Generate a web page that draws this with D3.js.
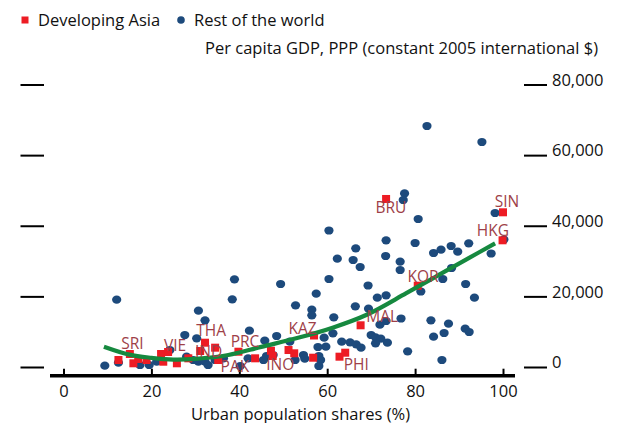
<!DOCTYPE html>
<html><head><meta charset="utf-8">
<script src="https://cdn.jsdelivr.net/npm/d3@7"></script>
<style>
html,body{margin:0;padding:0;background:#fff;}
svg{display:block;font-family:"Open Sans",sans-serif;}
</style></head>
<body>
<svg id="c" width="617" height="423"></svg>
<script>
// ---- data ----
const xTicks = [0, 20, 40, 60, 80, 100];
const yTicks = [0, 20000, 40000, 60000, 80000];
const xTitle = "Urban population shares (%)";
const yTitle = "Per capita GDP, PPP (constant 2005 international $)";
const seriesNames = ["Developing Asia", "Rest of the world"];

// Rest of the world: urban share (%) and GDP per capita
const worldX = [82.7,95.2,77.6,77.3,80.7,60.4,98.2,100.2,73.4,80.0,66.5,62.3,65.9,67.5,73.3,76.6,76.6,60.4,69.3,84.2,85.9,88.2,89.7,92.2,97.3,88.3,86.3,91.5,93.5,81.3,76.8,83.6,87.6,84.2,86.6,91.4,92.3,78.3,86.1,73.4,71.4,57.5,66.4,69.4,56.5,56.5,61.5,72.0,73.4,61.3,59.3,63.3,65.2,66.6,67.7,70.0,71.0,72.2,71.0,73.7,59.7,58.1,58.5,58.1,54.6,54.9,38.9,49.4,38.4,52.8,30.7,32.2,42.3,45.8,48.5,51.5,12.1,9.4,27.6,30.3,24.2,12.5,17.4,19.5,21.2,28.0,29.5,30.7,32.2,34.5,36.4,42.0,45.5,46.2,52.7,32.9,40.2,47.7,57.9];
const worldY = [68250,63720,49140,47290,41910,38660,43610,36110,35880,35120,33620,30670,30300,28320,31440,29820,27470,24920,23080,32280,33220,34270,32650,35030,32140,28040,24920,23510,19630,21380,13740,13230,12260,8580,9630,10850,9910,4450,1980,20300,19630,20760,17190,16510,16230,14640,14080,11980,13030,9540,8300,7170,7000,6430,5470,9060,8410,8010,6710,6880,5750,3120,1980,280,3400,2350,24840,23510,19170,17470,15940,13230,10280,7450,8780,7170,19060,370,9060,8130,4810,1220,570,570,1500,2920,1980,1500,1500,1980,2460,2460,1980,3120,1980,570,280,3400,5660];

// Developing Asia
const asiaX = [73.4,100.0,99.9,80.6,67.6,57.0,56.8,62.8,64.1,32.2,31.1,34.5,39.8,43.6,47.2,47.6,51.2,52.5,12.5,15.1,15.9,18.9,22.2,23.8,22.7,25.8,28.4,35.2,17.0];
const asiaY = [47580,43810,35880,23020,11810,8920,2630,2920,4050,6880,4530,5470,4330,2460,4620,3120,4810,3880,1980,3680,1050,1980,3680,4250,1500,1050,2460,1980,2270];

// Economy labels (text and where each sits, in data units)
const labelText = ["SRI","VIE","THA","IND","PRC","PAK","INO","KAZ","MAL","PHI","KOR","BRU","SIN","HKG"];
const labelX = [15.7,25.4,33.6,33.0,41.3,39.0,49.3,54.4,72.5,66.6,81.8,74.5,100.9,97.7];
const labelY = [5010,4530,8800,2970,5750,-1330,-850,9350,12830,-850,24160,43700,45230,37100];

// Fitted trend line
const trendX = [9.2,15,20,25,30,37.5,45,53.8,61.4,69,78,85.3,92,98.2];
const trendY = [5750,3500,2600,2100,2300,3400,5700,8400,11200,14800,20900,26000,30700,35000];

// ---- drawing ----
const FS = 16.5, LFS = 15.5;
const svg = d3.select("#c");
const x = d3.scaleLinear().domain([0,100]).range([63.5,503]);
const y = d3.scaleLinear().domain([0,80000]).range([367,84.5]);

const cBlue = "#1d4a7c", cRed = "#ed1c24", cGreen = "#16893f", cLab = "#9e3f48";

// left ticks (no labels)
const gl = svg.append("g").attr("transform","translate(20.5,0)")
  .call(d3.axisRight(y).tickValues(yTicks).tickSize(23.5).tickFormat(""));
gl.select(".domain").remove();
gl.selectAll(".tick line").attr("stroke","#000").attr("stroke-width",2);

// right axis
const gr = svg.append("g").attr("transform","translate(524,0)")
  .call(d3.axisRight(y).tickValues(yTicks).tickSize(23).tickPadding(5).tickFormat(d3.format(",")));
gr.select(".domain").remove();
gr.selectAll(".tick line").attr("stroke","#000").attr("stroke-width",2);
gr.selectAll(".tick text").attr("font-family","Open Sans").attr("font-size",FS).attr("fill","#111").attr("dy","0.04em");

// x axis
const axY = 375.7;
svg.append("line").attr("x1",50).attr("x2",515).attr("y1",axY).attr("y2",axY)
  .attr("stroke","#000").attr("stroke-width",3.5);
const gx = svg.append("g").attr("transform",`translate(0,${axY})`)
  .call(d3.axisBottom(x).tickValues(xTicks).tickSize(-7).tickSizeOuter(0).tickPadding(10));
gx.select(".domain").remove();
gx.selectAll(".tick line").attr("stroke","#000").attr("stroke-width",2);
gx.selectAll(".tick text").attr("font-family","Open Sans").attr("font-size",FS).attr("fill","#111");

// titles
svg.append("text").attr("x",300.5).attr("y",419.5).attr("text-anchor","middle")
  .attr("font-size",FS).attr("fill","#111").text(xTitle);
svg.append("text").attr("x",598).attr("y",54).attr("text-anchor","end")
  .attr("font-size",FS).attr("fill","#111").text(yTitle);

// legend
svg.append("rect").attr("x",21.5).attr("y",16.5).attr("width",7).attr("height",7).attr("fill",cRed);
svg.append("text").attr("x",38).attr("y",26).attr("font-size",FS).attr("fill","#111").text(seriesNames[0]);
svg.append("circle").attr("cx",181).attr("cy",20).attr("r",3.8).attr("fill",cBlue);
svg.append("text").attr("x",194).attr("y",26).attr("font-size",FS).attr("fill","#111").text(seriesNames[1]);

// rest of the world dots
svg.append("g").selectAll("ellipse").data(d3.range(worldX.length)).join("ellipse")
  .attr("cx",i=>x(worldX[i])).attr("cy",i=>y(worldY[i])).attr("rx",4.6).attr("ry",4.1).attr("fill",cBlue);

// developing Asia squares
const sq = 8;
svg.append("g").selectAll("rect").data(d3.range(asiaX.length)).join("rect")
  .attr("x",i=>x(asiaX[i])-sq/2).attr("y",i=>y(asiaY[i])-sq/2).attr("width",sq).attr("height",sq).attr("fill",cRed);

// trend line
const line = d3.line().x(i=>x(trendX[i])).y(i=>y(trendY[i])).curve(d3.curveCatmullRom.alpha(0.5));
svg.append("path").attr("d",line(d3.range(trendX.length))).attr("fill","none")
  .attr("stroke",cGreen).attr("stroke-width",4.2);

// economy labels
svg.append("g").selectAll("text").data(d3.range(labelText.length)).join("text")
  .attr("x",i=>x(labelX[i])).attr("y",i=>y(labelY[i])).attr("text-anchor","middle")
  .attr("font-size",LFS).attr("fill",cLab).text(i=>labelText[i]);
</script>
</body></html>
